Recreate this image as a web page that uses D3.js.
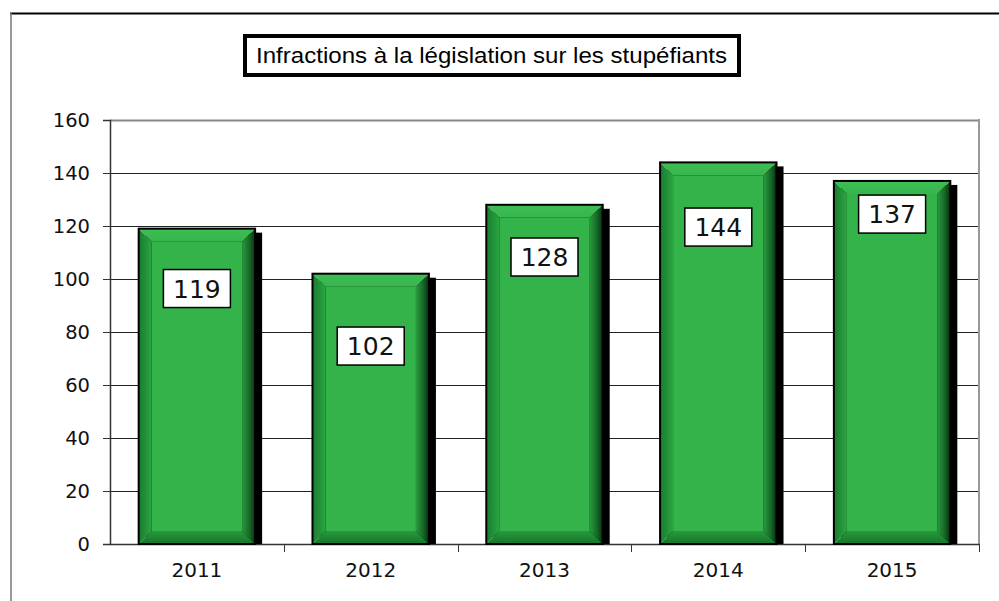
<!DOCTYPE html>
<html>
<head>
<meta charset="utf-8">
<script src="https://cdn.jsdelivr.net/npm/d3@7"></script>
<style>
  body { margin: 0; background: #fff; }
  svg { display: block; }
</style>
</head>
<body>
<svg id="chart" width="999" height="601"></svg>
<script>
// chart data
var years = ['2011', '2012', '2013', '2014', '2015'];
var counts = [119, 102, 128, 144, 137];
var yTicks = [0, 20, 40, 60, 80, 100, 120, 140, 160];
// where each value box sits, read in value units off the picture
var labelAt = [96.4, 74.7, 108.3, 119.6, 124.5];
var title = 'Infractions à la législation sur les stupéfiants';

var svg = d3.select('#chart');
var plot = { left: 110, right: 979, top: 120, bottom: 544 };
var bevel = 13;

var x = d3.scaleBand()
  .domain(years)
  .range([plot.left, plot.right])
  .paddingInner(0.33)
  .paddingOuter(0.165);

var y = d3.scaleLinear()
  .domain([0, 160])
  .range([plot.bottom, plot.top]);

// gradients for the bevel sides
var defs = svg.append('defs');
function grad(id, x2, y2, stops) {
  var g = defs.append('linearGradient').attr('id', id)
    .attr('x1', 0).attr('y1', 0).attr('x2', x2).attr('y2', y2);
  stops.forEach(function(s) {
    g.append('stop').attr('offset', s[0]).attr('stop-color', s[1]);
  });
}
grad('bvLeft', 1, 0, [[0, '#1a7c2f'], [0.5, '#228f38'], [1, '#2ca743']]);
grad('bvRight', 1, 0, [[0, '#2a9a3f'], [0.6, '#156526'], [1, '#082e10']]);
grad('bvBottom', 0, 1, [[0, '#279a3d'], [1, '#17742b']]);
grad('bvTop', 0, 1, [[0, '#3ebd54'], [1, '#38b64e']]);

// outer frame
svg.append('line').attr('x1', 10).attr('x2', 999).attr('y1', 13.5).attr('y2', 13.5)
  .attr('stroke', '#000').attr('stroke-width', 2);
svg.append('line').attr('x1', 11).attr('x2', 11).attr('y1', 13).attr('y2', 601)
  .attr('stroke', '#777').attr('stroke-width', 1.5);

// title box
var titleG = svg.append('g');
titleG.append('rect')
  .attr('x', 245).attr('y', 36).attr('width', 494).attr('height', 39)
  .attr('fill', '#fff').attr('stroke', '#000').attr('stroke-width', 4);
titleG.append('text')
  .attr('x', 256).attr('y', 63)
  .attr('font-family', 'Liberation Sans, Arial, sans-serif')
  .attr('font-size', 22)
  .attr('textLength', 471)
  .attr('lengthAdjust', 'spacingAndGlyphs')
  .text(title);

// gridlines
svg.append('g')
  .selectAll('line')
  .data(yTicks.slice(1))
  .join('line')
  .attr('x1', plot.left).attr('x2', plot.right)
  .attr('y1', function(d) { return Math.round(y(d)) + 0.5; })
  .attr('y2', function(d) { return Math.round(y(d)) + 0.5; })
  .attr('stroke', function(d) { return d === 160 ? '#888' : '#222'; })
  .attr('stroke-width', function(d) { return d === 160 ? 2 : 1; });

// right border of plot
svg.append('line')
  .attr('x1', plot.right).attr('x2', plot.right)
  .attr('y1', plot.top - 1).attr('y2', plot.bottom)
  .attr('stroke', '#999').attr('stroke-width', 2);

// y axis
var yAxis = svg.append('g')
  .attr('transform', 'translate(' + plot.left + ',0)')
  .call(d3.axisLeft(y).tickValues(yTicks).tickSize(7).tickPadding(13));
yAxis.select('.domain').attr('stroke', '#333').attr('stroke-width', 1.5);
yAxis.selectAll('.tick line').attr('stroke', '#333');
yAxis.selectAll('text')
  .attr('font-family', 'DejaVu Sans, Verdana, sans-serif')
  .attr('font-size', 19.5).attr('fill', '#111');

// x axis, ticks at category boundaries
var xAxis = svg.append('g')
  .attr('transform', 'translate(0,' + plot.bottom + ')')
  .call(d3.axisBottom(x).tickSize(0).tickPadding(19));
xAxis.select('.domain').attr('stroke', '#333').attr('stroke-width', 1.5);
xAxis.selectAll('text')
  .attr('font-family', 'DejaVu Sans, Verdana, sans-serif')
  .attr('font-size', 20).attr('fill', '#111');
var step = x.step();
var bounds = years.map(function(d, i) { return plot.left + step * (i + 1); });
svg.append('g').selectAll('line')
  .data(bounds)
  .join('line')
  .attr('x1', function(d) { return Math.round(d) + 0.5; })
  .attr('x2', function(d) { return Math.round(d) + 0.5; })
  .attr('y1', plot.bottom).attr('y2', plot.bottom + 8)
  .attr('stroke', '#333');

// bars
var bars = svg.append('g')
  .selectAll('g')
  .data(years.map(function(d, i) { return { year: d, value: counts[i], lab: labelAt[i] }; }))
  .join('g');

// drop shadow
bars.append('rect')
  .attr('x', function(d) { return x(d.year) + 7; })
  .attr('y', function(d) { return y(d.value) + 4; })
  .attr('width', x.bandwidth())
  .attr('height', function(d) { return plot.bottom - y(d.value) - 4; })
  .attr('fill', '#000');

bars.each(function(d) {
  var g = d3.select(this);
  var x0 = x(d.year), x1 = x0 + x.bandwidth();
  var y0 = y(d.value), y1 = plot.bottom;
  var b = bevel;
  function poly(pts, fill) {
    g.append('polygon')
      .attr('points', pts.map(function(p) { return p.join(','); }).join(' '))
      .attr('fill', fill);
  }
  poly([[x0, y0], [x1, y0], [x1 - b, y0 + b], [x0 + b, y0 + b]], 'url(#bvTop)');
  poly([[x0, y1], [x1, y1], [x1 - b, y1 - b], [x0 + b, y1 - b]], 'url(#bvBottom)');
  poly([[x0, y0], [x0 + b, y0 + b], [x0 + b, y1 - b], [x0, y1]], 'url(#bvLeft)');
  poly([[x1, y0], [x1 - b, y0 + b], [x1 - b, y1 - b], [x1, y1]], 'url(#bvRight)');
  g.append('rect')
    .attr('x', x0 + b).attr('y', y0 + b)
    .attr('width', x1 - x0 - 2 * b).attr('height', y1 - y0 - 2 * b)
    .attr('fill', '#34b34a');
  g.append('rect')
    .attr('x', x0).attr('y', y0)
    .attr('width', x1 - x0).attr('height', y1 - y0)
    .attr('fill', 'none').attr('stroke', '#000').attr('stroke-width', 2);
});

// value boxes
var boxW = 67, boxH = 38;
bars.append('rect')
  .attr('x', function(d) { return x(d.year) + x.bandwidth() / 2 - boxW / 2; })
  .attr('y', function(d) { return y(d.lab) - boxH / 2; })
  .attr('width', boxW).attr('height', boxH)
  .attr('fill', '#fff').attr('stroke', '#000').attr('stroke-width', 1.5);
bars.append('text')
  .attr('x', function(d) { return x(d.year) + x.bandwidth() / 2; })
  .attr('y', function(d) { return y(d.lab); })
  .attr('dy', '0.36em')
  .attr('text-anchor', 'middle')
  .attr('font-family', 'DejaVu Sans, Verdana, sans-serif')
  .attr('font-size', 25).attr('fill', '#111')
  .text(function(d) { return d.value; });
</script>
</body>
</html>
